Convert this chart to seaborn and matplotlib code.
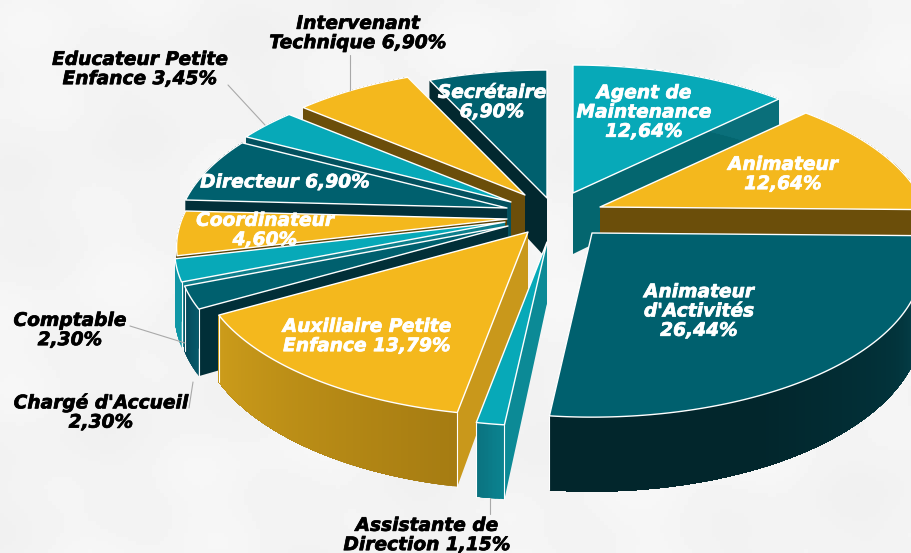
import numpy as np
import matplotlib
matplotlib.use("Agg")
import matplotlib.pyplot as plt
import matplotlib.patheffects as pe
import seaborn as sns

# slices, clockwise from 12 o'clock
values = [12.64, 12.64, 26.44, 1.15, 13.79, 2.30, 2.30, 4.60, 6.90, 3.45, 6.90, 6.90]
names = ["Agent de\nMaintenance\n", "Animateur\n", "Animateur\nd'Activités\n", "Assistante de\nDirection ",
         "Auxiliaire Petite\nEnfance ", "Chargé d'Accueil\n", "Comptable\n", "Coordinateur\n",
         "Directeur ", "Educateur Petite\nEnfance ", "Intervenant\nTechnique ", "Secrétaire\n"]

sns.set_theme(style="white")
plt.rcParams['font.family'] = 'DejaVu Sans'

TEAL = "#07a9b8"
DARK = "#00606e"
GOLD = "#f4b81d"
tops = [TEAL, GOLD, DARK, TEAL, GOLD, DARK, TEAL, GOLD, DARK, TEAL, GOLD, DARK]
# rim gradient stops, then colour of the two cut faces
rims = [("#0a6f7a", "#0a6f7a"), ("#6b4e0a", "#6b4e0a"), ("#0a5660", "#02333b", "#02262c", "#02262c"),
        ("#0b8390", "#0b7380"), ("#a67c12", "#cc9c1a"), ("#06596a", "#06495a"), ("#1097a6", "#1097a6"),
        ("#5a4206", "#5a4206"), ("#02303a", "#02303a"), ("#03515f", "#03515f"), ("#6b4e0a", "#6b4e0a"),
        ("#02282f", "#02282f")]
cuts = ["#04666f", "#6b4e0a", "#02333b", "#0c8a96", "#c9981b", "#012f38", "#0e7f8c", "#5a4206",
        "#02303a", "#03515f", "#6b4e0a", "#02282f"]

# where each slice's tip ends up once exploded
tips = [(573, 193), (600, 207), (592, 233), (547, 242), (528, 232), (508, 226), (505, 222), (507, 219),
        (507, 208), (511, 202), (525, 195), (547, 198)]
order = [11, 0, 1, 2, 10, 9, 8, 7, 6, 5, 4, 3]

RX, RY, K, DEPTH = 325, 151, 0.18, 61


def project(tip, t, r=1.0, down=0.0):
    # t clockwise from north, far side is squeezed by perspective
    X, Y = r * np.sin(t), r * np.cos(t)
    s = 1 + K * Y
    return tip[0] + RX * X / s, tip[1] - RY * Y / s + down / s


fig, ax = plt.subplots(figsize=(9.12, 5.53), dpi=100)
fig.subplots_adjust(0, 0, 1, 1)

# paper background
yy, xx = np.mgrid[0:553:4, 0:912:4]
paper = 0.955 + 0.006 * np.sin(xx / 70 + yy / 45) + 0.005 * np.sin(xx / 23 - yy / 60 + 1) + 0.003 * np.sin(yy / 15 + xx / 90)
ax.imshow(paper, cmap="gray", vmin=0, vmax=1, extent=(0, 912, 553, 0), aspect="auto", zorder=0)

edges = np.cumsum([0] + values) / sum(values) * 2 * np.pi

for z, i in enumerate(order):
    tip = tips[i]
    ts = np.linspace(edges[i], edges[i + 1], max(8, int(values[i] * 6)))
    zo = 2 + z
    for t in (ts[0], ts[-1]):
        a = project(tip, t)
        b = project(tip, t, down=DEPTH)
        c = project(tip, t, r=0, down=DEPTH)
        d = project(tip, t, r=0)
        ax.fill([a[0], b[0], c[0], d[0]], [a[1], b[1], c[1], d[1]], color=cuts[i], lw=0, zorder=zo)
    grad = sns.blend_palette(rims[i], len(ts) - 1)
    for j in range(len(ts) - 1):
        # each strip runs to the end of the rim so no seams show
        seg = ts[j:]
        p = [project(tip, t) for t in seg] + [project(tip, t, down=DEPTH) for t in seg[::-1]]
        ax.fill(*zip(*p), color=grad[j], lw=0, zorder=zo)
    outline = [project(tip, t) for t in ts] + [tip]
    ax.fill(*zip(*outline), facecolor=tops[i], edgecolor="white", lw=1.0, zorder=zo + 0.5, joinstyle="round")
    # front corner lines
    for t in (ts[0], ts[-1]):
        if np.cos(t) < -0.3:
            a = project(tip, t)
            b = project(tip, t, down=DEPTH)
            ax.plot([a[0], b[0]], [a[1], b[1]], color="white", lw=0.8, zorder=zo + 0.4)

# leader lines
leaders = [((350, 55), (350, 90)), ((228, 85), (265, 125)), ((130, 326), (185, 343)),
           ((193, 382), (189, 408)), ((490, 498), (490, 514))]
for a, b in leaders:
    ax.plot([a[0], b[0]], [a[1], b[1]], color="#a9a9a9", lw=0.8, zorder=30)

# text anchor and colour per slice
spots = [(644, 112, "white"), (783, 174, "white"), (699, 311, "white"), (427, 535, "black"),
         (367, 336, "white"), (101, 412, "black"), (70, 330, "black"), (265, 230, "white"),
         (285, 182, "white"), (140, 69, "black"), (358, 33, "black"), (492, 102, "white")]
for n, v, (x, y, col) in zip(names, values, spots):
    lab = n + f"{v:.2f}".replace(".", ",") + "%"
    ax.text(x, y, lab, ha="center", va="center", color=col, fontsize=13.4, fontweight="bold",
            fontstyle="italic", linespacing=1.02, zorder=40,
            path_effects=[pe.withStroke(linewidth=0.5, foreground=col)])

ax.set_xlim(0, 912)
ax.set_ylim(553, 0)
ax.axis("off")
fig.savefig("out.png", dpi=100)
